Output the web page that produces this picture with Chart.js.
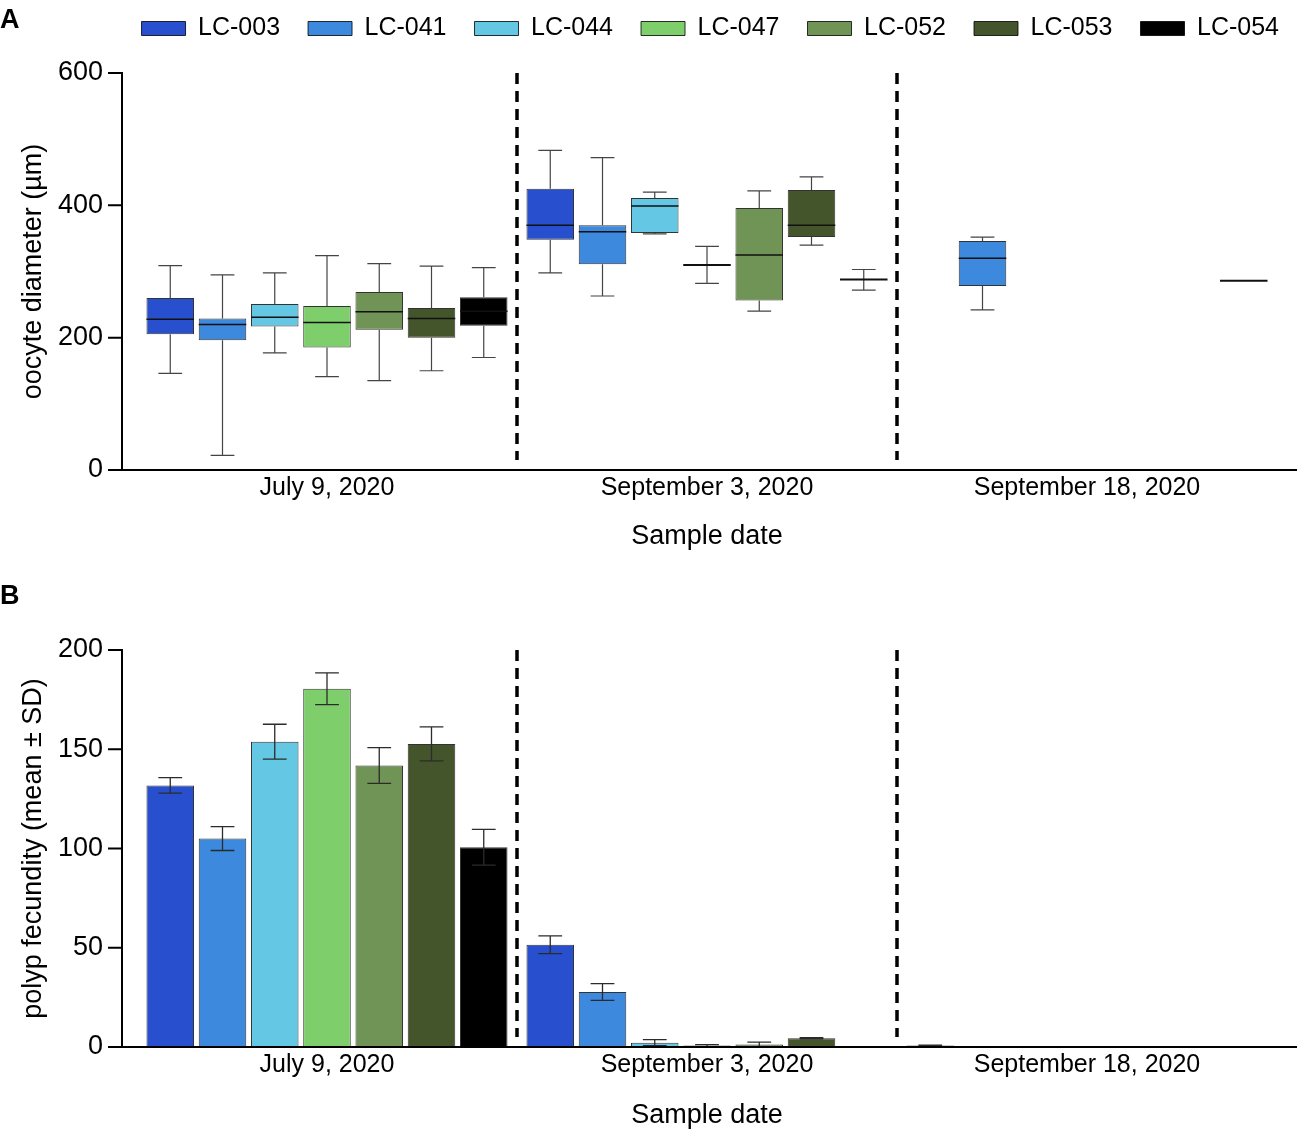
<!DOCTYPE html>
<html lang="en">
<head>
  <meta charset="UTF-8">
  <title>Oocyte diameter and polyp fecundity</title>
  <script src="https://cdn.jsdelivr.net/npm/chart.js"></script>
  <style>
    body {
      margin: 0;
      background: #fff;
      font-family: "Liberation Sans", Arial, sans-serif;
    }
    .page {
      position: relative;
      width: 1307px;
      height: 1140px;
    }
    .panel-letter {
      position: absolute;
      left: 0;
      font-weight: bold;
      font-size: 27px;
      line-height: 1;
    }
    #wrapA { position: absolute; left: 0; top: 0; }
    #wrapB { position: absolute; left: 0; top: 570px; }
  </style>
</head>
<body>
  <div class="page">
    <div id="wrapA"><canvas id="oocyteChart" width="1307" height="565"></canvas></div>
    <div id="wrapB"><canvas id="fecundityChart" width="1307" height="570"></canvas></div>
    <div class="panel-letter" style="top:6px">A</div>
    <div class="panel-letter" style="top:582px">B</div>
  </div>

  <script>
    const sampleDates = ['July 9, 2020', 'September 3, 2020', 'September 18, 2020'];
    const colonies = ['LC-003', 'LC-041', 'LC-044', 'LC-047', 'LC-052', 'LC-053', 'LC-054'];
    const colonyColors = ['#2850ce', '#3c89dd', '#64c7e3', '#7ecf6c', '#6f9455', '#44552c', '#000000'];

    // oocyte diameter (um) per date: [min, q1, median, q3, max], null = not sampled
    const lc003Oocyte = [[146, 205, 228, 260, 309], [298, 348, 370, 425, 483], null];
    const lc041Oocyte = [[22, 196, 220, 229, 295], [263, 311, 360, 370, 472], [242, 278, 320, 346, 352]];
    const lc044Oocyte = [[177, 217, 231, 251, 298], [357, 358, 399, 411, 420], null];
    const lc047Oocyte = [[141, 185, 223, 248, 324], [282, 310, 310, 310, 338], null];
    const lc052Oocyte = [[135, 212, 239, 269, 312], [240, 256, 325, 396, 422], null];
    const lc053Oocyte = [[150, 200, 229, 245, 308], [340, 352, 370, 423, 443], null];
    const lc054Oocyte = [[170, 218, 240, 261, 306], [272, 288, 288, 288, 303], [286, 286, 286, 286, 286]];
    const oocyteStats = [lc003Oocyte, lc041Oocyte, lc044Oocyte, lc047Oocyte, lc052Oocyte, lc053Oocyte, lc054Oocyte];

    // polyp fecundity mean and SD per date
    const fecundityMean = [
      [131.8, 51.5, 0.7],
      [105.0, 27.7, 0],
      [153.8, 2.2, 0],
      [180.5, 0.7, 0],
      [141.8, 1.2, 0],
      [152.7, 4.4, 0],
      [100.6, 0, 0]
    ];
    const fecunditySd = [
      [3.9, 4.5, 0.2],
      [6.0, 4.2, 0],
      [8.8, 1.5, 0],
      [8.0, 0.5, 0],
      [9.0, 1.3, 0],
      [8.6, 0.3, 0],
      [9.0, 0, 0]
    ];

    const oocyteTicks = { min: 0, max: 600, step: 200 };
    const fecundityTicks = { min: 0, max: 200, step: 50 };

    Chart.defaults.font.family = "'Liberation Sans', Arial, sans-serif";
    Chart.defaults.color = '#000';

    // axis lines sit a little outside the category area, like the original figure
    const axisFrame = {
      id: 'axisFrame',
      afterDraw(chart) {
        const { ctx, chartArea: a, scales: { y } } = chart;
        const axisX = a.left - 15;
        ctx.save();
        ctx.strokeStyle = '#000';
        ctx.lineWidth = 2;
        ctx.beginPath();
        ctx.moveTo(axisX, a.top - 1);
        ctx.lineTo(axisX, a.bottom);
        ctx.moveTo(axisX - 14, a.bottom);
        ctx.lineTo(a.right + 20, a.bottom);
        y.ticks.forEach(t => {
          const py = y.getPixelForValue(t.value);
          ctx.moveTo(axisX - 14, py);
          ctx.lineTo(axisX, py);
        });
        ctx.stroke();
        ctx.restore();
      }
    };

    // dashed lines between the sample dates
    const dateSeparators = {
      id: 'dateSeparators',
      afterDatasetsDraw(chart) {
        const { ctx, chartArea, scales: { x } } = chart;
        ctx.save();
        ctx.strokeStyle = '#000';
        ctx.lineWidth = 3.5;
        ctx.setLineDash([11, 7]);
        for (let i = 0; i < sampleDates.length - 1; i++) {
          const px = (x.getPixelForValue(i) + x.getPixelForValue(i + 1)) / 2;
          ctx.beginPath();
          ctx.moveTo(px, chartArea.top);
          ctx.lineTo(px, chartArea.bottom - 10);
          ctx.stroke();
        }
        ctx.restore();
      }
    };

    // whiskers and median lines on top of the q1-q3 floating bars
    const boxWhiskers = {
      id: 'boxWhiskers',
      afterDatasetsDraw(chart) {
        const ctx = chart.ctx;
        const y = chart.scales.y;
        oocyteStats.forEach((stats, i) => {
          const meta = chart.getDatasetMeta(i);
          stats.forEach((s, j) => {
            if (!s) return;
            const bar = meta.data[j];
            const half = bar.width / 2;
            const cap = bar.width / 4;
            const [mn, q1, md, q3, mx] = s.map(v => y.getPixelForValue(v));
            ctx.save();
            ctx.strokeStyle = '#444';
            ctx.lineWidth = 1.2;
            ctx.beginPath();
            if (mx < q3) {
              ctx.moveTo(bar.x, q3); ctx.lineTo(bar.x, mx);
              ctx.moveTo(bar.x - cap, mx); ctx.lineTo(bar.x + cap, mx);
            }
            if (mn > q1) {
              ctx.moveTo(bar.x, q1); ctx.lineTo(bar.x, mn);
              ctx.moveTo(bar.x - cap, mn); ctx.lineTo(bar.x + cap, mn);
            }
            ctx.stroke();
            ctx.strokeStyle = '#111';
            ctx.lineWidth = q1 === q3 ? 2 : 1.5;
            ctx.beginPath();
            ctx.moveTo(bar.x - half, md);
            ctx.lineTo(bar.x + half, md);
            ctx.stroke();
            ctx.restore();
          });
        });
      }
    };

    // mean +/- SD error bars
    const errorBars = {
      id: 'errorBars',
      afterDatasetsDraw(chart) {
        const ctx = chart.ctx;
        const y = chart.scales.y;
        fecunditySd.forEach((sds, i) => {
          const meta = chart.getDatasetMeta(i);
          sds.forEach((sd, j) => {
            if (!sd) return;
            const bar = meta.data[j];
            const cap = bar.width / 4;
            const top = y.getPixelForValue(fecundityMean[i][j] + sd);
            const bottom = y.getPixelForValue(Math.max(fecundityMean[i][j] - sd, 0));
            ctx.save();
            ctx.strokeStyle = '#2b2b2b';
            ctx.lineWidth = 1.3;
            ctx.beginPath();
            ctx.moveTo(bar.x, top); ctx.lineTo(bar.x, bottom);
            ctx.moveTo(bar.x - cap, top); ctx.lineTo(bar.x + cap, top);
            ctx.moveTo(bar.x - cap, bottom); ctx.lineTo(bar.x + cap, bottom);
            ctx.stroke();
            ctx.restore();
          });
        });
      }
    };

    // extra room under the legend
    const legendGap = {
      id: 'legendGap',
      beforeInit(chart) {
        const fit = chart.legend.fit;
        chart.legend.fit = function () {
          fit.call(this);
          this.height += 22;
        };
      }
    };

    function buildScales(yTitle, ticks, xTitleBottom, plotBottom, canvasHeight) {
      return {
        x: {
          grid: { display: false, drawTicks: false },
          border: { display: false },
          ticks: { font: { size: 25 }, padding: 3, maxRotation: 0 },
          title: { display: true, text: 'Sample date', font: { size: 27 }, padding: { top: 0, bottom: xTitleBottom } },
          afterFit(scale) { scale.height = canvasHeight - plotBottom; }
        },
        y: {
          min: ticks.min,
          max: ticks.max,
          grid: { display: false, drawTicks: false },
          border: { display: false },
          ticks: { stepSize: ticks.step, font: { size: 27 }, padding: 34 },
          title: { display: true, text: yTitle, font: { size: 27 }, padding: { top: 17, bottom: 0 } },
          afterFit(scale) { scale.width = 137; }
        }
      };
    }

    // Panel A: oocyte diameter box plots
    const scalesA = buildScales('oocyte diameter (µm)', oocyteTicks, 12, 470, 565);
    scalesA.spacer = {
      position: 'right',
      grid: { display: false, drawTicks: false },
      border: { display: false },
      ticks: { display: false },
      afterFit(scale) { scale.width = 30; }
    };

    new Chart(document.getElementById('oocyteChart'), {
      type: 'bar',
      data: {
        labels: sampleDates,
        datasets: colonies.map((name, i) => ({
          label: name,
          data: oocyteStats[i].map(s => s ? [s[1], s[3]] : null),
          backgroundColor: colonyColors[i],
          borderColor: 'rgba(0,0,0,0.8)',
          borderWidth: 1,
          borderSkipped: false,
          categoryPercentage: 0.9625,
          barPercentage: 0.91
        }))
      },
      options: {
        responsive: false,
        animation: false,
        layout: { padding: { top: -12, right: 0, bottom: 0, left: 0 } },
        plugins: {
          tooltip: { enabled: false },
          legend: {
            position: 'top',
            align: 'end',
            labels: {
              boxWidth: 44,
              boxHeight: 14,
              padding: 28,
              font: { size: 25 },
              generateLabels() {
                return colonies.map((name, i) => ({
                  text: name,
                  fillStyle: colonyColors[i],
                  strokeStyle: 'rgba(0,0,0,0.8)',
                  lineWidth: 1,
                  datasetIndex: i
                }));
              }
            }
          }
        },
        scales: scalesA
      },
      plugins: [legendGap, axisFrame, dateSeparators, boxWhiskers]
    });

    // Panel B: polyp fecundity bars
    new Chart(document.getElementById('fecundityChart'), {
      type: 'bar',
      data: {
        labels: sampleDates,
        datasets: colonies.map((name, i) => ({
          label: name,
          data: fecundityMean[i],
          backgroundColor: colonyColors[i],
          borderColor: 'rgba(0,0,0,0.8)',
          borderWidth: 1,
          borderSkipped: 'bottom',
          categoryPercentage: 0.9625,
          barPercentage: 0.91
        }))
      },
      options: {
        responsive: false,
        animation: false,
        layout: { padding: { top: 80, right: 30, bottom: 0, left: 0 } },
        plugins: {
          tooltip: { enabled: false },
          legend: { display: false }
        },
        scales: buildScales('polyp fecundity (mean ± SD)', fecundityTicks, 8, 477, 570)
      },
      plugins: [axisFrame, dateSeparators, errorBars]
    });
  </script>
</body>
</html>
